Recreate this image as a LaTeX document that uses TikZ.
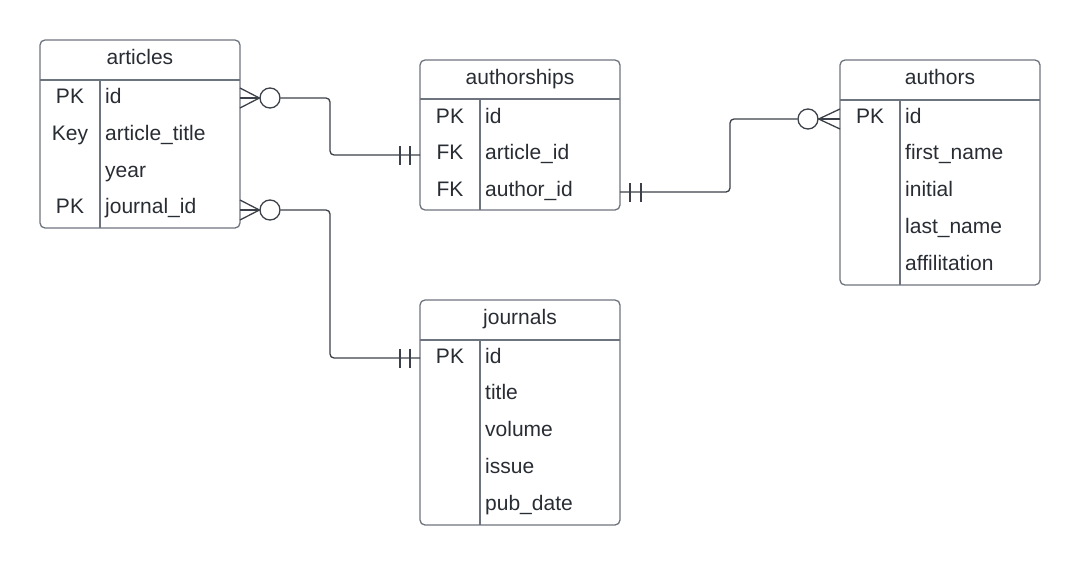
\documentclass[tikz,border=0pt]{standalone}
\usepackage{fontspec}
\setmainfont{Liberation Sans}
\definecolor{boxgray}{HTML}{6E747E}
\definecolor{linegray}{HTML}{3C4048}
\definecolor{txt}{HTML}{282C33}
\tikzset{
  tbl/.style={draw=boxgray, line width=1.3pt, rounded corners=5pt},
  sep/.style={draw=boxgray, line width=1.3pt},
  label/.style={text=txt, inner sep=0pt, font=\fontsize{21}{24}\selectfont},
  title/.style={label, anchor=base},
  keycol/.style={label, anchor=base},
  field/.style={label, anchor=base west},
  rel/.style={draw=linegray, line width=1.3pt},
  ring/.style={circle, draw=linegray, line width=1.3pt, minimum size=20pt, inner sep=0pt},
}
\begin{document}
\begin{tikzpicture}[x=1pt, y=-1pt]
  \useasboundingbox (0,0) rectangle (1080,565);

  % articles
  \draw[tbl] (40,40) rectangle (240,228);
  \draw[sep] (40,80) -- (240,80);
  \draw[sep] (100,80) -- (100,228);
  \node[title] (articles) at (140,64) {articles};
  \foreach \k/\f [count=\i] in {PK/id, Key/article\_title, /year, PK/journal\_id}{
    \node[keycol] (artk\i) at (70,{103.5+(\i-1)*36.8}) {\k};
    \node[field] (artf\i) at (105,{103.5+(\i-1)*36.8}) {\f};
  }

  % authorships
  \draw[tbl] (420,60) rectangle (620,210);
  \draw[sep] (420,99) -- (620,99);
  \draw[sep] (480,99) -- (480,210);
  \node[title] (authorships) at (520,84) {authorships};
  \foreach \k/\f [count=\i] in {PK/id, FK/article\_id, FK/author\_id}{
    \node[keycol] (shipk\i) at (450,{123+(\i-1)*36.8}) {\k};
    \node[field] (shipf\i) at (485,{123+(\i-1)*36.8}) {\f};
  }

  % authors
  \draw[tbl] (840,60) rectangle (1040,285);
  \draw[sep] (840,100) -- (1040,100);
  \draw[sep] (900,100) -- (900,285);
  \node[title] (authors) at (940,84) {authors};
  \foreach \k/\f [count=\i] in {PK/id, /first\_name, /initial, /last\_name, /affilitation}{
    \node[keycol] (authk\i) at (870,{123+(\i-1)*36.8}) {\k};
    \node[field] (authf\i) at (905,{123+(\i-1)*36.8}) {\f};
  }

  % journals
  \draw[tbl] (420,300) rectangle (620,525);
  \draw[sep] (420,340) -- (620,340);
  \draw[sep] (480,340) -- (480,525);
  \node[title] (journals) at (520,324) {journals};
  \foreach \k/\f [count=\i] in {PK/id, /title, /volume, /issue, /pub\_date}{
    \node[keycol] (jourk\i) at (450,{363+(\i-1)*36.8}) {\k};
    \node[field] (jourf\i) at (485,{363+(\i-1)*36.8}) {\f};
  }

  % articles -- authorships
  \coordinate (artid) at (240,98);
  \coordinate (shipart) at (420,155);
  \node[ring] (ringa) at (270,98) {};
  \draw[rel] (240,88) -- (ringa.west) -- (240,108);
  \draw[rel] (artid) -- (ringa.west);
  \draw[rel, rounded corners=4pt] (ringa.east) -- (330,98) -- (330,155) -- (shipart);
  \draw[rel] (400,146) -- (400,165);
  \draw[rel] (410,146) -- (410,165);

  % articles -- journals
  \coordinate (artjour) at (240,210);
  \coordinate (jourid) at (420,358);
  \node[ring] (ringb) at (270,210) {};
  \draw[rel] (240,200) -- (ringb.west) -- (240,220);
  \draw[rel] (artjour) -- (ringb.west);
  \draw[rel, rounded corners=4pt] (ringb.east) -- (330,210) -- (330,358) -- (jourid);
  \draw[rel] (400,349) -- (400,368);
  \draw[rel] (410,349) -- (410,368);

  % authorships -- authors
  \coordinate (shipauth) at (620,192);
  \coordinate (authid) at (840,119);
  \node[ring] (ringc) at (808,119) {};
  \draw[rel] (authid |- 0,109) -- (ringc.east) -- (authid |- 0,129);
  \draw[rel] (authid) -- (ringc.east);
  \draw[rel, rounded corners=4pt] (shipauth) -- (730,192) -- (730,119) -- (ringc.west);
  \draw[rel] (630,183) -- (630,202);
  \draw[rel] (641,183) -- (641,202);
\end{tikzpicture}
\end{document}
